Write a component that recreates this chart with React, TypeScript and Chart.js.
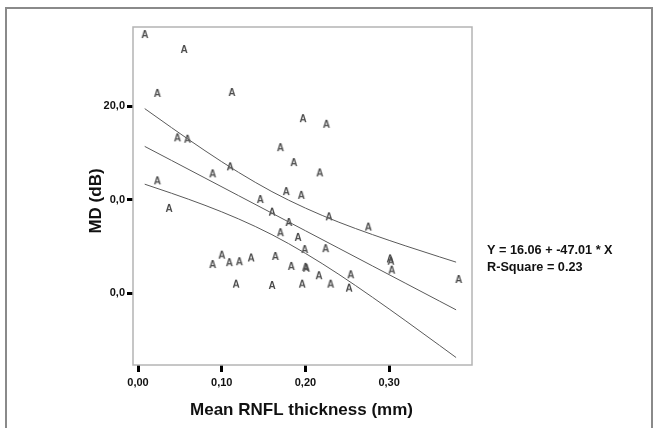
import React, { useEffect, useRef } from "react";
import { Chart, registerables } from "chart.js";

Chart.register(...registerables);

// Scatter observations (Mean RNFL thickness in mm, MD in dB)
const pointX = [
  0.008, 0.055, 0.023, 0.112, 0.197, 0.225, 0.047, 0.059, 0.170, 0.186,
  0.110, 0.089, 0.217, 0.023, 0.177, 0.195, 0.146, 0.037, 0.160, 0.228,
  0.180, 0.275, 0.170, 0.191, 0.199, 0.224, 0.100, 0.135, 0.164, 0.301,
  0.302, 0.109, 0.121, 0.089, 0.183, 0.200, 0.201, 0.303, 0.254, 0.216,
  0.383, 0.117, 0.160, 0.196, 0.230, 0.252,
];
const pointY = [
  27.7, 26.1, 21.4, 21.5, 18.7, 18.1, 16.65, 16.5, 15.6, 14.0,
  13.55, 12.8, 12.9, 12.05, 10.9, 10.5, 10.05, 9.1, 8.7, 8.2,
  7.6, 7.1, 6.5, 6.0, 4.7, 4.8, 4.1, 3.8, 3.96, 3.7,
  3.45, 3.3, 3.4, 3.1, 2.9, 2.8, 2.7, 2.5, 2.0, 1.9,
  1.5, 1.0, 0.86, 1.0, 1.0, 0.57,
];

// Fit line and confidence band
const bandX = [0.008, 0.04, 0.08, 0.12, 0.16, 0.2, 0.24, 0.28, 0.32, 0.36, 0.38];
const fitY = [15.68, 14.18, 12.3, 10.42, 8.54, 6.66, 4.78, 2.9, 1.02, -0.86, -1.8];
const upperY = [19.72, 17.69, 15.22, 12.91, 10.84, 9.08, 7.57, 6.25, 5.03, 3.87, 3.3];
const lowerY = [11.64, 10.67, 9.38, 7.93, 6.24, 4.24, 1.99, -0.45, -2.99, -5.59, -6.9];

const xTickValues = [0, 0.1, 0.2, 0.3];
const xTickLabels = ["0,00", "0,10", "0,20", "0,30"];
const yTickValues = [0, 10, 20];
const yTickLabels = ["0,0", "0,0", "20,0"];

const xTitle = "Mean RNFL thickness (mm)";
const yTitle = "MD (dB)";
const equationLines = ["Y = 16.06 + -47.01 * X", "R-Square = 0.23"];

const FONT = "'Liberation Sans', Arial, Helvetica, sans-serif";

function makeMarker(): HTMLCanvasElement {
  const c = document.createElement("canvas");
  c.width = 10;
  c.height = 12;
  const ctx = c.getContext("2d")!;
  ctx.font = `bold 10px ${FONT}`;
  ctx.fillStyle = "#4a4a4a";
  ctx.textAlign = "center";
  ctx.textBaseline = "alphabetic";
  ctx.fillText("A", 5, 10);
  return c;
}

const decorPlugin = {
  id: "decor",
  beforeDatasetsDraw(chart: any) {
    const { ctx, chartArea } = chart;
    ctx.save();
    ctx.strokeStyle = "#b4b4b4";
    ctx.lineWidth = 1.5;
    ctx.strokeRect(chartArea.left, chartArea.top, chartArea.right - chartArea.left, chartArea.bottom - chartArea.top);
    ctx.restore();
  },
  afterDraw(chart: any) {
    const { ctx } = chart;
    ctx.save();
    // outer frame
    ctx.strokeStyle = "#8a8a8a";
    ctx.lineWidth = 2;
    ctx.beginPath();
    ctx.moveTo(6, 432);
    ctx.lineTo(6, 8);
    ctx.lineTo(652, 8);
    ctx.lineTo(652, 432);
    ctx.stroke();

    ctx.fillStyle = "#111";
    // x title
    ctx.font = `bold 17px ${FONT}`;
    ctx.textAlign = "center";
    ctx.textBaseline = "alphabetic";
    ctx.fillText(xTitle, 301.5, 414.5);
    // y title
    ctx.save();
    ctx.translate(100.5, 201);
    ctx.rotate(-Math.PI / 2);
    ctx.fillText(yTitle, 0, 0);
    ctx.restore();
    // equation
    ctx.font = `bold 12.7px ${FONT}`;
    ctx.textAlign = "left";
    ctx.fillText(equationLines[0], 487, 254);
    ctx.fillText(equationLines[1], 487, 271);
    ctx.restore();
  },
};

export default function App() {
  const ref = useRef<HTMLCanvasElement | null>(null);

  useEffect(() => {
    if (!ref.current) return;
    const marker = makeMarker();
    const lineStyle = {
      showLine: true,
      borderColor: "#5a5a5a",
      borderWidth: 1,
      pointRadius: 0,
      fill: false,
      cubicInterpolationMode: "monotone" as const,
    };
    const chart = new Chart(ref.current, {
      type: "scatter",
      data: {
        datasets: [
          { ...lineStyle, data: bandX.map((x, i) => ({ x, y: upperY[i] })) },
          { ...lineStyle, data: bandX.map((x, i) => ({ x, y: fitY[i] })) },
          { ...lineStyle, data: bandX.map((x, i) => ({ x, y: lowerY[i] })) },
          {
            data: pointX.map((x, i) => ({ x, y: pointY[i] })),
            pointStyle: marker as any,
            pointRadius: 5,
            showLine: false,
          },
        ],
      },
      options: {
        animation: false,
        responsive: false,
        devicePixelRatio: 1,
        layout: { padding: { left: 0, top: 27, right: 186, bottom: 0 } },
        plugins: { legend: { display: false }, tooltip: { enabled: false } },
        scales: {
          x: {
            type: "linear",
            min: -0.006,
            max: 0.399,
            afterBuildTicks: (s: any) => {
              s.ticks = xTickValues.map((v) => ({ value: v }));
            },
            afterFit: (s: any) => {
              s.height = 63;
            },
            ticks: {
              callback: (v: any) => {
                const i = xTickValues.findIndex((t) => Math.abs(t - Number(v)) < 1e-9);
                return i >= 0 ? xTickLabels[i] : "";
              },
              font: { family: FONT, size: 11, weight: "bold" },
              color: "#111",
              padding: 4,
              maxRotation: 0,
              autoSkip: false,
            },
            grid: { drawOnChartArea: false, drawTicks: true, tickLength: 7, color: "#000", lineWidth: 3 },
            border: { display: false },
          },
          y: {
            type: "linear",
            min: -7.7,
            max: 28.45,
            afterBuildTicks: (s: any) => {
              s.ticks = yTickValues.map((v) => ({ value: v }));
            },
            afterFit: (s: any) => {
              s.width = 133;
            },
            ticks: {
              callback: (v: any) => {
                const i = yTickValues.findIndex((t) => Math.abs(t - Number(v)) < 1e-9);
                return i >= 0 ? yTickLabels[i] : "";
              },
              font: { family: FONT, size: 11, weight: "bold" },
              color: "#111",
              padding: 2,
              autoSkip: false,
            },
            grid: { drawOnChartArea: false, drawTicks: true, tickLength: 6, color: "#000", lineWidth: 3 },
            border: { display: false },
          },
        },
      },
      plugins: [decorPlugin],
    });
    return () => chart.destroy();
  }, []);

  return (
    <div style={{ position: "fixed", left: 0, top: 0, width: 658, height: 428, background: "#fff" }}>
      <canvas ref={ref} width={658} height={428} style={{ width: 658, height: 428, display: "block" }} />
    </div>
  );
}
